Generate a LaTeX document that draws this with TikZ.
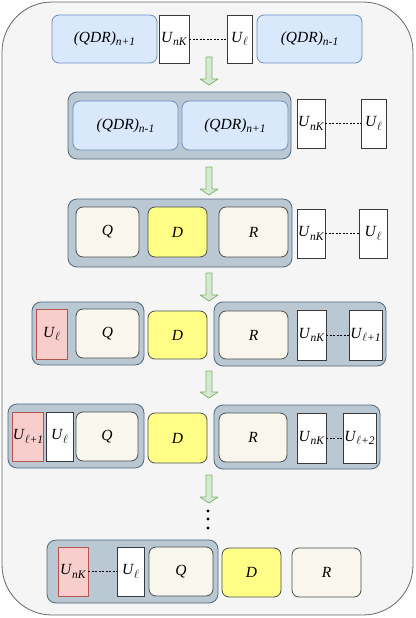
\documentclass[tikz,border=0pt]{standalone}
\usepackage{fontspec}
\setmainfont{Liberation Serif}
\usetikzlibrary{positioning}

\definecolor{bgfill}{HTML}{F5F5F5}
\definecolor{bgline}{HTML}{666666}
\definecolor{qdrfill}{HTML}{DAE8FC}
\definecolor{qdrline}{HTML}{6C8EBF}
\definecolor{grpfill}{HTML}{BAC8D3}
\definecolor{grpline}{HTML}{23445D}
\definecolor{qfill}{HTML}{F9F7ED}
\definecolor{qline}{HTML}{36393D}
\definecolor{dfill}{HTML}{FFFF88}
\definecolor{redfill}{HTML}{F8CECC}
\definecolor{redline}{HTML}{B85450}
\definecolor{arrfill}{HTML}{D5E8D4}
\definecolor{arrline}{HTML}{82B366}

\newcommand{\lowsub}[1]{\raisebox{-0.45ex}{\fontsize{11.5}{12}\selectfont\textit{#1}}}
\newcommand{\QDR}[1]{\textit{(QDR)}\lowsub{#1}}
\newcommand{\UU}[1]{\textit{U}\lowsub{#1}}

\tikzset{
  box/.style={draw, line width=0.8pt, inner sep=0pt,
    font=\fontsize{15.5}{17}\selectfont},
  bluebox/.style={box, rounded corners=7, fill=qdrfill, draw=qdrline},
  grpbox/.style={draw=grpline!80, fill=grpfill, line width=0.8pt, rounded corners=9},
  qbox/.style={box, rounded corners=7, fill=qfill, draw=qline!90},
  dbox/.style={box, rounded corners=7, fill=dfill, draw=qline!90},
  ubox/.style={box, fill=white, draw=qline},
  redbox/.style={box, fill=redfill, draw=redline},
  udash/.style={dashed, dash pattern=on 2pt off 1.5pt, line width=0.7pt},
  garrow/.style={draw=arrline, fill=arrfill, line width=0.8pt, line join=round}
}

\begin{document}
\begin{tikzpicture}[x=1pt, y=-1pt]
    \useasboundingbox (0,0) rectangle (415,618);
    % Background panel
    \draw[bgline, fill=bgfill, line width=0.8pt, rounded corners=50] (2,2) rectangle (413,615);

    % Row 1
    \node[bluebox, minimum width=105, minimum height=48] (qdra) at (104.5,39) {\QDR{n+1}};
    \node[ubox, minimum width=30, minimum height=48] (unka) at (174,39) {\UU{nK}};
    \node[ubox, minimum width=25, minimum height=48] (ula) at (239.5,39) {\UU{$\ell$}};
    \node[bluebox, minimum width=105, minimum height=48] (qdrb) at (309.5,39) {\QDR{n-1}};
    \draw[udash] (unka.east) -- (ula.west);

    % Row 2
    \node[grpbox, minimum width=223, minimum height=67] (grpb) at (179.5,125.5) {};
    \node[bluebox, minimum width=105, minimum height=49] (qdrc) at (125.5,125.5) {\QDR{n-1}};
    \node[bluebox, minimum width=106, minimum height=49] (qdrd) at (235,125.5) {\QDR{n+1}};
    \node[ubox, minimum width=28, minimum height=49] (unkb) at (311,123.5) {\UU{nK}};
    \node[ubox, minimum width=25, minimum height=49] (ulb) at (373.5,123.5) {\UU{$\ell$}};
    \draw[udash] (unkb.east) -- (ulb.west);

    % Row 3
    \node[grpbox, minimum width=224, minimum height=68] (grpc) at (180,233) {};
    \node[qbox, minimum width=63, minimum height=50] (qc) at (107.5,232) {\textit{Q}};
    \node[dbox, minimum width=59, minimum height=50] (dc) at (177.5,232) {\textit{D}};
    \node[qbox, minimum width=69, minimum height=50] (rc) at (253.5,232) {\textit{R}};
    \node[ubox, minimum width=28, minimum height=49] (unkc) at (311,233.5) {\UU{nK}};
    \node[ubox, minimum width=28, minimum height=49] (ulc) at (373,233.5) {\UU{$\ell$}};
    \draw[udash] (unkc.east) -- (ulc.west);

    % Row 4
    \node[grpbox, minimum width=112, minimum height=63] (grpdl) at (88,333.5) {};
    \node[grpbox, minimum width=172, minimum height=64] (grpdr) at (300,334) {};
    \node[redbox, minimum width=31, minimum height=50] (uld) at (51.5,334) {\UU{$\ell$}};
    \node[qbox, minimum width=63, minimum height=49] (qd) at (107.5,333.5) {\textit{Q}};
    \node[dbox, minimum width=59, minimum height=48] (dd) at (177.5,335) {\textit{D}};
    \node[qbox, minimum width=69, minimum height=48] (rd) at (253.5,335) {\textit{R}};
    \node[ubox, minimum width=29, minimum height=50] (unkd) at (311.5,335) {\UU{nK}};
    \node[ubox, minimum width=33, minimum height=50] (ulnd) at (365.5,335) {\UU{$\ell$+1}};
    \draw[udash] (unkd.east) -- (ulnd.west);

    % Row 5
    \node[grpbox, minimum width=136, minimum height=64] (grpel) at (76,436) {};
    \node[grpbox, minimum width=166, minimum height=64] (grper) at (297,437) {};
    \node[redbox, minimum width=30, minimum height=49] (ulne) at (28,436.5) {\UU{$\ell$+1}};
    \node[ubox, minimum width=27, minimum height=49] (ule) at (59.5,436.5) {\UU{$\ell$}};
    \node[qbox, minimum width=62, minimum height=49] (qe) at (107,436.5) {\textit{Q}};
    \node[dbox, minimum width=59, minimum height=50] (de) at (177.5,438) {\textit{D}};
    \node[qbox, minimum width=68, minimum height=49] (re) at (253,437.5) {\textit{R}};
    \node[ubox, minimum width=29, minimum height=50] (unke) at (311.5,438) {\UU{nK}};
    \node[ubox, minimum width=33, minimum height=50] (ulme) at (359.5,438) {\UU{$\ell$+2}};
    \draw[udash] (unke.east) -- (ulme.west);

    % Row 6
    \node[grpbox, minimum width=171, minimum height=63] (grpf) at (132.5,571.5) {};
    \node[redbox, minimum width=30, minimum height=49] (unkf) at (73,571.5) {\UU{nK}};
    \node[ubox, minimum width=27, minimum height=49] (ulf) at (130.5,571.5) {\UU{$\ell$}};
    \node[qbox, minimum width=64, minimum height=49] (qf) at (181,571.5) {\textit{Q}};
    \node[dbox, minimum width=59, minimum height=49] (df) at (251.5,572.5) {\textit{D}};
    \node[qbox, minimum width=69, minimum height=49] (rf) at (326.5,572.5) {\textit{R}};
    \draw[udash] (unkf.east) -- (ulf.west);

    % Green step arrows
    \foreach \t/\b in {57/85, 167/195, 273/301, 371/398, 475/503}
      \draw[garrow] (206,\t) -- (212,\t) -- (212,\b-6) -- (218,\b-6) -- (209,\b)
        -- (200,\b-6) -- (206,\b-6) -- cycle;

    % Dots
    \foreach \y in {511,519,528}
      \fill (208,\y) circle (1.6);
\end{tikzpicture}
\end{document}
